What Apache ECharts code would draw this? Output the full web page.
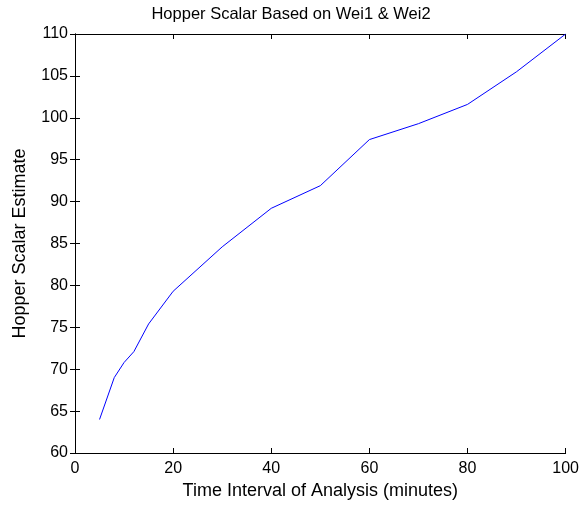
<!DOCTYPE html>
<html>
<head>
<meta charset="utf-8">
<script src="https://cdn.jsdelivr.net/npm/echarts@6/dist/echarts.min.js"></script>
<style>
  html, body { margin: 0; padding: 0; background: #fff; }
  #chart { width: 582px; height: 505px; }
</style>
</head>
<body>
<div id="chart"></div>
<script>
// Analysis interval lengths (minutes)
const intervals = [5, 8, 10, 12, 15, 20, 30, 40, 50, 60, 70, 80, 90, 100];
// Hopper scalar estimate for each interval
const scalarEstimates = [64.0, 69.0, 70.8, 72.1, 75.4, 79.3, 84.6, 89.2, 91.9, 97.4, 99.3, 101.6, 105.5, 110.0];

const xTicks = { min: 0, max: 100, interval: 20 };
const yTicks = { min: 60, max: 110, interval: 5 };

const fontFamily = '"Liberation Sans", Arial, Helvetica, sans-serif';
const tickFont = { fontFamily, fontSize: 16, color: '#000' };
const nameFont = { fontFamily, fontSize: 18, color: '#000' };

const chart = echarts.init(document.getElementById('chart'), null, { renderer: 'canvas' });

const boxAxisLine = { show: true, lineStyle: { color: '#000', width: 1 } };
const boxTick = { show: true, inside: true, length: 5, lineStyle: { color: '#000', width: 1 } };

chart.setOption({
  animation: false,
  backgroundColor: '#fff',
  title: {
    text: 'Hopper Scalar Based on Wei1 & Wei2',
    left: 'center',
    top: 1,
    textStyle: { fontFamily, fontSize: 16.5, fontWeight: 'normal', color: '#000' }
  },
  grid: { left: 75, right: 16, top: 34, bottom: 52 },
  xAxis: [
    {
      type: 'value', position: 'bottom',
      min: xTicks.min, max: xTicks.max, interval: xTicks.interval,
      name: 'Time Interval of Analysis (minutes)',
      nameLocation: 'middle', nameGap: 29,
      nameTextStyle: nameFont,
      axisLine: boxAxisLine, axisTick: boxTick,
      axisLabel: Object.assign({ margin: 8 }, tickFont),
      splitLine: { show: false }
    },
    {
      type: 'value', position: 'top',
      min: xTicks.min, max: xTicks.max, interval: xTicks.interval,
      axisLine: boxAxisLine, axisTick: boxTick,
      axisLabel: { show: false }, splitLine: { show: false }
    }
  ],
  yAxis: [
    {
      type: 'value', position: 'left',
      min: yTicks.min, max: yTicks.max, interval: yTicks.interval,
      name: 'Hopper Scalar Estimate',
      nameLocation: 'middle', nameGap: 46,
      nameTextStyle: nameFont,
      axisLine: boxAxisLine, axisTick: boxTick,
      axisLabel: Object.assign({ margin: 7 }, tickFont),
      splitLine: { show: false }
    },
    {
      type: 'value', position: 'right',
      min: yTicks.min, max: yTicks.max, interval: yTicks.interval,
      axisLine: boxAxisLine, axisTick: boxTick,
      axisLabel: { show: false }, splitLine: { show: false }
    }
  ],
  series: [
    {
      type: 'line',
      xAxisIndex: 0, yAxisIndex: 0,
      data: intervals.map((t, i) => [t, scalarEstimates[i]]),
      showSymbol: false, symbol: 'none',
      lineStyle: { color: '#0000ff', width: 1 },
      silent: true
    }
  ]
});
</script>
</body>
</html>
